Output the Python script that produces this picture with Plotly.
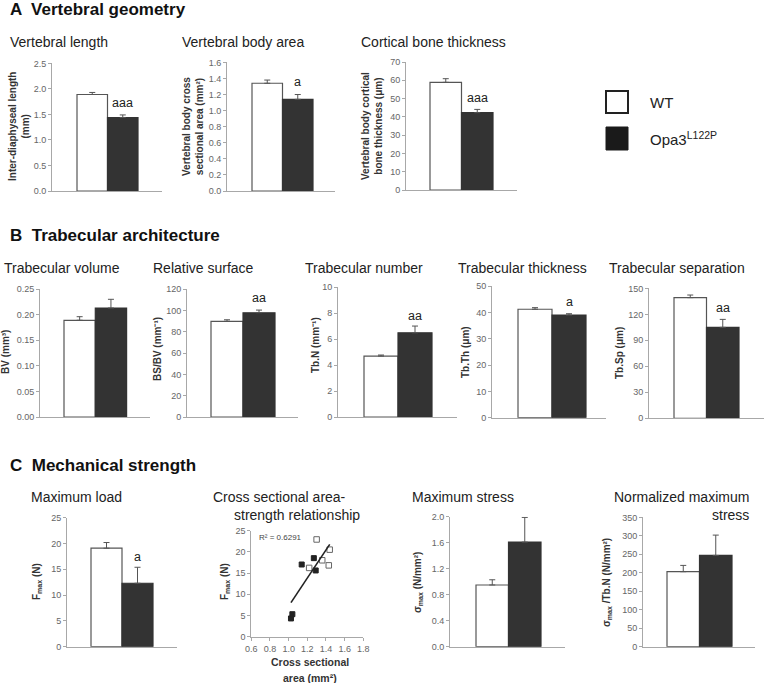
import numpy as np
import plotly.graph_objects as go

W, H = 764, 683
FONT = "Liberation Sans, Arial, Helvetica, sans-serif"

# ---------------- DATA ----------------
groups = ["WT", "Opa3<sup>L122P</sup>"]

# A  Vertebral geometry
vert_length = [1.89, 1.44]
vert_length_err = [0.04, 0.05]
vert_area = [1.34, 1.14]
vert_area_err = [0.04, 0.06]
cort_thick = [58.9, 42.3]
cort_thick_err = [2.0, 1.8]

# B  Trabecular architecture
trab_volume = [0.189, 0.213]
trab_volume_err = [0.007, 0.017]
rel_surface = [89.7, 97.8]
rel_surface_err = [1.5, 2.5]
trab_number = [4.69, 6.48]
trab_number_err = [0.08, 0.52]
trab_thick = [41.2, 39.0]
trab_thick_err = [0.6, 0.5]
trab_sep = [139.3, 105.0]
trab_sep_err = [3.0, 9.2]

# C  Mechanical strength
max_load = [19.1, 12.3]
max_load_err = [1.1, 3.1]
max_stress = [0.95, 1.61]
max_stress_err = [0.08, 0.38]
norm_stress = [203.0, 247.0]
norm_stress_err = [17.0, 55.0]

# scatter: cross sectional area (mm2) vs Fmax (N)
opa_area = [1.025, 1.04, 1.14, 1.27, 1.29]
opa_fmax = [4.3, 5.3, 17.0, 18.5, 15.6]
wt_area = [1.22, 1.30, 1.36, 1.43, 1.44]
wt_fmax = [16.2, 22.9, 18.0, 16.8, 20.5]
r2_label = "R² = 0.6291"

# ---------------- helpers ----------------
def px(x):
    return x / W

def py(y):
    return 1 - y / H

fig = go.Figure()
layout = dict(width=W, height=H, margin=dict(l=0, r=0, t=0, b=0, pad=0, autoexpand=False),
              paper_bgcolor="white", plot_bgcolor="white", showlegend=False,
              font=dict(family=FONT, color="#333"))
annotations = []
shapes = []
AX = "#a8a8a8"
TICKC = "#666"


def text(t, x, y, size=13, bold=False, xanchor="left", angle=0, color="#222", yanchor="middle"):
    if bold:
        t = "<b>" + t + "</b>"
    annotations.append(dict(text=t, x=px(x), y=py(y), xref="paper", yref="paper",
                            xanchor=xanchor, yanchor=yanchor, showarrow=False,
                            textangle=angle, font=dict(family=FONT, size=size, color=color)))


def ylabel(t, x, y):
    text(t, x, y, size=10, bold=True, xanchor="center", angle=-90, color="#333")


def bar_chart(n, vals, errs, xl, xr, ytop, ybot, bl, bw, ymax, dtick, fmt,
              sig=None, sig_y=None):
    xa = "xaxis" if n == 1 else f"xaxis{n}"
    ya = "yaxis" if n == 1 else f"yaxis{n}"
    xr_ = "x" if n == 1 else f"x{n}"
    yr_ = "y" if n == 1 else f"y{n}"
    lo = -0.5 - (bl - xl) / bw
    hi = -0.5 + (xr - bl) / bw
    fig.add_trace(go.Bar(
        x=[0, 1], y=vals, width=1, xaxis=xr_, yaxis=yr_,
        marker=dict(color=["white", "#333333"],
                    line=dict(color=["#555555", "#333333"], width=1.2)),
        error_y=dict(type="data", array=errs, arrayminus=[0, 0], symmetric=False,
                     color="#555", thickness=1, width=3),
        hoverinfo="skip"))
    layout[xa] = dict(domain=[px(xl), px(xr)], range=[lo, hi], anchor=yr_, automargin=False,
                      showline=True, linecolor=AX, linewidth=1, showticklabels=False,
                      ticks="", showgrid=False, zeroline=False)
    layout[ya] = dict(domain=[py(ybot), py(ytop)], range=[0, ymax * 1.0005], anchor=xr_,
                      automargin=False,
                      showline=True, linecolor=AX, linewidth=1, ticks="outside",
                      ticklen=3, tickcolor=AX, dtick=dtick, tick0=0, tickformat=fmt,
                      tickfont=dict(family=FONT, size=9, color=TICKC),
                      showgrid=False, zeroline=False)
    if sig:
        annotations.append(dict(text=sig, x=1, y=sig_y, xref=xr_, yref=yr_,
                                showarrow=False, xanchor="center", yanchor="middle",
                                font=dict(family=FONT, size=12.5, color="#222")))


# ---------------- Panel A ----------------
text("A  Vertebral geometry", 8, 9, size=17, bold=True, color="#111")
text("Vertebral length", 8, 42, size=14)
text("Vertebral body area", 180, 42, size=14)
text("Cortical bone thickness", 359, 42, size=14)

bar_chart(1, vert_length, vert_length_err, 52, 162, 63.3, 191, 77, 30.5, 2.5, 0.5, ".1f", "aaa", 1.72)
ylabel("Inter-diaphyseal length<br>(mm)", 19, 127)
bar_chart(2, vert_area, vert_area_err, 227, 335, 62.3, 191, 252, 30.5, 1.6, 0.2, ".1f", "a", 1.35)
ylabel("Vertebral body cross<br>sectional area (mm²)", 193, 126)
bar_chart(3, cort_thick, cort_thick_err, 406, 517, 62, 190, 430, 31.5, 70, 10, "d", "aaa", 50.3)
ylabel("Vertebral body cortical<br>bone thickness (μm)", 372, 126)

# legend
shapes.append(dict(type="rect", xref="paper", yref="paper", x0=px(606), x1=px(628),
                   y0=py(113), y1=py(91), line=dict(color="#222", width=2), fillcolor="white"))
shapes.append(dict(type="rect", xref="paper", yref="paper", x0=px(606), x1=px(628),
                   y0=py(150), y1=py(127), line=dict(color="#1a1a1a", width=1), fillcolor="#1a1a1a"))
text(groups[0], 648, 103, size=15)
text(groups[1], 648, 139, size=15)

# ---------------- Panel B ----------------
text("B  Trabecular architecture", 8, 235, size=17, bold=True, color="#111")
text("Trabecular volume", 2, 268, size=14)
text("Relative surface", 151, 268, size=14)
text("Trabecular number", 303, 268, size=14)
text("Trabecular thickness", 456, 268, size=14)
text("Trabecular separation", 607, 268, size=14)

bar_chart(4, trab_volume, trab_volume_err, 40, 150, 289, 417, 64, 31.3, 0.25, 0.05, ".2f")
ylabel("BV (mm³)", 5, 352)
bar_chart(5, rel_surface, rel_surface_err, 187, 298, 289, 417, 211, 32, 120, 20, "d", "aa", 111.6)
ylabel("BS/BV (mm⁻¹)", 157, 349)
bar_chart(6, trab_number, trab_number_err, 338, 457, 287, 417, 364, 34, 10, 2, "d", "aa", 7.75)
ylabel("Tb.N (mm⁻¹)", 315, 345)
bar_chart(7, trab_thick, trab_thick_err, 492, 606, 286, 417.7, 518, 34, 50, 10, "d", "a", 43.9)
ylabel("Tb.Th (μm)", 465, 352)
bar_chart(8, trab_sep, trab_sep_err, 649, 764, 288.3, 418.3, 674, 32.5, 150, 30, "d", "aa", 127)
ylabel("Tb.Sp (μm)", 619, 353)

# ---------------- Panel C ----------------
text("C  Mechanical strength", 8, 465, size=17, bold=True, color="#111")
text("Maximum load", 29, 497, size=14)
text("Cross sectional area-", 211, 497, size=14)
text("strength relationship", 232, 515, size=14)
text("Maximum stress", 410, 497, size=14)
text("Normalized maximum", 612, 497, size=14)
text("stress", 751, 515, size=14, xanchor="right")

bar_chart(9, max_load, max_load_err, 67, 177, 517.7, 646.7, 91, 31, 25, 5, "d", "a", 17.4)
ylabel("F<sub>max</sub> (N)", 37, 582)
bar_chart(11, max_stress, max_stress_err, 450, 565, 516.7, 646.7, 476, 32.5, 2.0, 0.4, ".1f")
ylabel("σ<sub>max</sub> (N/mm²)", 418, 583)
bar_chart(12, norm_stress, norm_stress_err, 643, 755, 517.3, 646.7, 667, 32.5, 350, 50, "d")
ylabel("σ<sub>max</sub> /Tb.N (N/mm²)", 607, 583)

# scatter (axis 10)
fig.add_trace(go.Scatter(x=opa_area, y=opa_fmax, mode="markers", xaxis="x10", yaxis="y10",
                         marker=dict(symbol="square", size=5, color="#222",
                                     line=dict(color="#222", width=1)), hoverinfo="skip"))
fig.add_trace(go.Scatter(x=wt_area, y=wt_fmax, mode="markers", xaxis="x10", yaxis="y10",
                         marker=dict(symbol="square-open", size=5.5, color="#666",
                                     line=dict(width=1)), hoverinfo="skip"))
all_x = np.array(opa_area + wt_area)
all_y = np.array(opa_fmax + wt_fmax)
slope, icpt = np.polyfit(all_x, all_y, 1)
fx = np.array([all_x.min(), all_x.max()])
fig.add_trace(go.Scatter(x=fx, y=slope * fx + icpt, mode="lines", xaxis="x10", yaxis="y10",
                         line=dict(color="#222", width=1.6), hoverinfo="skip"))
layout["xaxis10"] = dict(domain=[px(251.3), px(363.3)], range=[0.6, 1.8], anchor="y10",
                         automargin=False,
                         showline=True, linecolor=AX, ticks="outside", ticklen=3, tickcolor=AX,
                         dtick=0.2, tick0=0.6, tickformat=".1f",
                         tickfont=dict(family=FONT, size=9, color=TICKC),
                         showgrid=False, zeroline=False)
layout["yaxis10"] = dict(domain=[py(636.7), py(530.5)], range=[0, 25.01], anchor="x10",
                         automargin=False,
                         showline=True, linecolor=AX, ticks="outside", ticklen=3, tickcolor=AX,
                         dtick=5, tick0=0, tickfont=dict(family=FONT, size=9, color=TICKC),
                         showgrid=False, zeroline=False)
ylabel("F<sub>max</sub> (N)", 225, 582)
text(r2_label, 257, 537, size=8, color="#444")
text("Cross sectional", 310, 662, size=10.5, bold=True, xanchor="center", color="#333")
text("area (mm²)", 310, 678, size=10.5, bold=True, xanchor="center", color="#333")

layout["annotations"] = annotations
layout["shapes"] = shapes
fig.update_layout(**layout)
fig.write_html("out.html", config={"displayModeBar": False},
               post_script="document.body.style.margin='0';document.body.style.padding='0';"
                           "document.documentElement.style.overflow='hidden';")
